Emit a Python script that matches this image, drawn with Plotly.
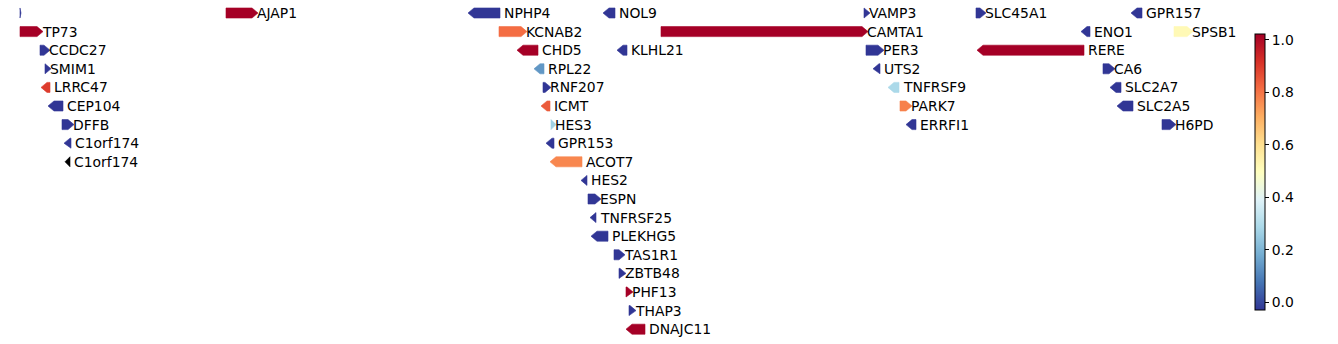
import plotly.graph_objects as go
from plotly.colors import sample_colorscale

# ---- data (x positions in track units, row index, strand, colour value) ----
genes = ["", "AJAP1", "NPHP4", "NOL9", "VAMP3", "SLC45A1", "GPR157",
         "TP73", "KCNAB2", "CAMTA1", "ENO1", "SPSB1",
         "CCDC27", "CHD5", "KLHL21", "PER3", "RERE",
         "SMIM1", "RPL22", "UTS2", "CA6",
         "LRRC47", "RNF207", "TNFRSF9", "SLC2A7",
         "CEP104", "ICMT", "PARK7", "SLC2A5",
         "DFFB", "HES3", "ERRFI1", "H6PD",
         "C1orf174", "GPR153",
         "C1orf174", "ACOT7",
         "HES2", "ESPN", "TNFRSF25", "PLEKHG5", "TAS1R1", "ZBTB48",
         "PHF13", "THAP3", "DNAJC11"]
starts = [20, 226, 468, 603, 864, 976, 1131,
          20, 499, 661, 1081, 1174,
          40, 517, 617, 866, 977,
          45, 534, 873, 1103,
          41, 543, 888, 1110,
          48, 541, 900, 1117,
          62, 551, 906, 1162,
          64, 546,
          65, 550,
          581, 588, 590, 591, 614, 619,
          626, 629, 626]
ends = [21, 258, 500, 615, 870, 986, 1142,
        43, 527, 868, 1090, 1193,
        50, 538, 627, 884, 1084,
        51, 544, 880, 1115,
        50, 551, 899, 1121,
        63, 550, 912, 1133,
        74, 556, 916, 1176,
        71, 554,
        70, 582,
        587, 601, 596, 608, 625, 626,
        633, 636, 645]
strands = [1, 1, -1, -1, 1, 1, -1,
           1, 1, 1, -1, 1,
           1, -1, -1, 1, -1,
           1, -1, -1, 1,
           -1, 1, -1, -1,
           -1, -1, 1, -1,
           1, 1, -1, 1,
           -1, -1,
           -1, -1,
           -1, 1, -1, -1, 1, 1,
           1, 1, -1]
rows = [0, 0, 0, 0, 0, 0, 0,
        1, 1, 1, 1, 1,
        2, 2, 2, 2, 2,
        3, 3, 3, 3,
        4, 4, 4, 4,
        5, 5, 5, 5,
        6, 6, 6, 6,
        7, 7,
        8, 8,
        9, 10, 11, 12, 13, 14,
        15, 16, 17]
values = [0.0, 1.0, 0.0, 0.0, 0.0, 0.0, 0.0,
          1.0, 0.8, 1.0, 0.0, 0.52,
          0.0, 1.0, 0.0, 0.0, 1.0,
          0.0, 0.16, 0.0, 0.0,
          0.88, 0.0, 0.3, 0.0,
          0.0, 0.83, 0.77, 0.0,
          0.0, 0.28, 0.0, 0.0,
          0.0, 0.0,
          None, 0.76,
          0.0, 0.0, 0.0, 0.0, 0.0, 0.0,
          1.0, 0.0, 1.0]
cbar_ticks = [0.0, 0.2, 0.4, 0.6, 0.8, 1.0]
cbar_labels = ["0.0", "0.2", "0.4", "0.6", "0.8", "1.0"]

CMIN, CMAX = -0.03, 1.022
W, H = 1338, 344
FONT = "DejaVu Sans"

def colour(v):
    if v is None:
        return "rgb(0,0,0)"
    t = min(max(v, 0), 1)
    return sample_colorscale("RdYlBu_r", [t])[0]

fig = go.Figure()
hh = 0.27   # half height of arrow in row units
HEAD = 6.0
annotations = []
for name, s, e, st, r, v in zip(genes, starts, ends, strands, rows, values):
    L = e - s
    hl = min(HEAD, L)
    if st > 0:
        xs = [s, e - hl, e, e - hl, s, s]
        ys = [r - hh, r - hh, r, r + hh, r + hh, r - hh]
    else:
        xs = [e, s + hl, s, s + hl, e, e]
        ys = [r - hh, r - hh, r, r + hh, r + hh, r - hh]
    c = colour(v)
    fig.add_trace(go.Scatter(x=xs, y=ys, mode="lines", fill="toself",
                             fillcolor=c, line=dict(color=c, width=0.6),
                             hoverinfo="skip", showlegend=False))
    if name:
        pad = -1.8 if st > 0 else 3
        annotations.append(dict(x=e + pad, y=r, text=name, showarrow=False,
                                xanchor="left", yanchor="middle", borderpad=0,
                                font=dict(family=FONT, size=13.9, color="black")))

# colorbar via dummy trace
fig.add_trace(go.Scatter(
    x=[None], y=[None], mode="markers", showlegend=False, hoverinfo="skip",
    marker=dict(color=[0.5], colorscale="RdYlBu_r", cmin=CMIN, cmax=CMAX,
                showscale=True,
                colorbar=dict(x=1255 / W, xanchor="left", y=1 - 172 / H, yanchor="middle",
                              lenmode="pixels", len=276, thicknessmode="pixels", thickness=10,
                              outlinecolor="black", outlinewidth=1,
                              tickmode="array", tickvals=cbar_ticks, ticktext=cbar_labels,
                              ticks="outside", ticklen=4, tickcolor="black",
                              tickfont=dict(family=FONT, size=13.9, color="black"),
                              xpad=0, ypad=0))))

ROW_PX = 18.6
TOP_PX = 13
fig.update_layout(
    width=W, height=H,
    margin=dict(l=0, r=0, t=0, b=0),
    paper_bgcolor="white", plot_bgcolor="white",
    annotations=annotations,
    xaxis=dict(range=[0, 1240], domain=[0, 1240 / W], visible=False, fixedrange=True),
    yaxis=dict(range=[(H - TOP_PX) / ROW_PX, -TOP_PX / ROW_PX], visible=False, fixedrange=True),
)
fig.write_html("out.html")
